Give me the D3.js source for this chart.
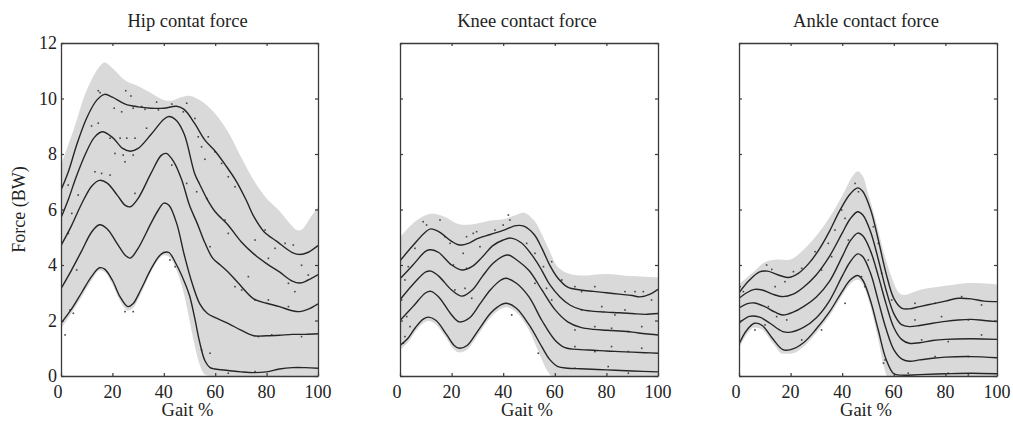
<!DOCTYPE html>
<html><head><meta charset="utf-8">
<script src="https://cdn.jsdelivr.net/npm/d3@7"></script>
<style>
html,body{margin:0;padding:0;background:#fff;}
svg{display:block;}
text{font-family:"Liberation Serif","Times New Roman",serif;fill:#222;}
</style></head>
<body>
<svg id="chart" width="1013" height="430"></svg>
<script>
// ---------- data (gait %, force in BW) ----------
const panelTitles = ["Hip contat force", "Knee contact force", "Ankle contact force"];
const xTicks = [0, 20, 40, 60, 80, 100];
const yTicks = [0, 2, 4, 6, 8, 10, 12];
const xLabel = "Gait %";
const yLabel = "Force (BW)";

// Hip
const hipUpper = [[0,7.6],[5,8.9],[10,10.3],[15,11.15],[17,11.3],[20,11.1],[25,10.65],[30,10.45],[35,10.2],[40,9.95],[43,9.92],[47,10.05],[50,10.1],[55,9.88],[60,9.45],[65,8.8],[70,7.9],[75,7.05],[80,6.4],[85,5.95],[90,5.4],[92,5.25],[94,5.3],[97,5.7],[100,6.1]];
const hipLower = [[0,1.7],[4,2.25],[8,2.85],[12,3.45],[15,3.8],[17,3.75],[20,3.3],[23,2.7],[26,2.35],[28,2.45],[31,2.95],[35,3.75],[38,4.2],[40,4.35],[42,4.3],[45,3.8],[48,2.9],[50,2.0],[52,1.1],[54,0.4],[56,0.05],[58,0],[100,0]];
const hipCurve1 = [[0,1.9],[4,2.4],[8,3.0],[12,3.6],[15,3.9],[17,3.85],[20,3.45],[23,2.85],[26,2.5],[28,2.6],[31,3.1],[35,3.85],[38,4.3],[40,4.45],[42,4.45],[45,4.0],[48,3.4],[50,2.9],[52,2.1],[54,1.2],[56,0.55],[58,0.3],[60,0.25],[65,0.2],[70,0.15],[75,0.12],[80,0.15],[85,0.25],[90,0.3],[95,0.3],[100,0.28]];
const hipCurve2 = [[0,3.15],[4,3.8],[8,4.5],[12,5.2],[15,5.45],[18,5.3],[22,4.75],[25,4.35],[27,4.25],[30,4.6],[35,5.5],[38,6.0],[40,6.23],[42,6.15],[45,5.5],[48,4.35],[51,3.35],[54,2.6],[57,2.25],[60,2.1],[65,1.9],[70,1.65],[75,1.45],[80,1.45],[85,1.47],[90,1.5],[95,1.5],[100,1.52]];
const hipCurve3 = [[0,4.7],[4,5.4],[8,6.2],[12,6.85],[15,7.05],[18,6.95],[22,6.5],[25,6.15],[27,6.1],[30,6.4],[35,7.3],[39,7.95],[41,8.02],[44,7.7],[47,7.06],[50,6.15],[53,5.5],[56,4.8],[59,4.25],[62,4.0],[65,3.75],[69,3.35],[75,2.78],[80,2.62],[85,2.5],[90,2.35],[93,2.32],[96,2.4],[100,2.6]];
const hipCurve4 = [[0,5.7],[3,6.4],[6,7.2],[10,8.1],[13,8.6],[16,8.8],[20,8.6],[24,8.2],[27,8.1],[30,8.2],[35,8.7],[40,9.25],[42,9.35],[45,9.2],[48,8.7],[52,7.3],[54,6.9],[57,6.35],[60,5.92],[65,5.44],[70,4.85],[75,4.4],[80,4.05],[85,3.75],[90,3.42],[93,3.35],[96,3.45],[100,3.65]];
const hipCurve5 = [[0,6.7],[3,7.4],[6,8.3],[10,9.3],[14,9.95],[17,10.15],[20,10.05],[25,9.8],[30,9.7],[35,9.65],[40,9.65],[45,9.72],[48,9.6],[52,9.1],[56,8.5],[60,8.1],[64,7.6],[68,7.05],[72,6.35],[75,5.75],[79,5.2],[84,4.85],[90,4.45],[93,4.38],[96,4.45],[100,4.7]];
const hipDots = [[14.5,10.28],[15.2,10.21],[25.2,10.28],[27.2,10.09],[20.7,9.65],[23.6,9.52],[28.1,9.65],[31.4,9.71],[32.7,9.61],[37.2,9.87],[37.9,9.59],[43.1,9.8],[48.9,9.83],[47.6,9.52],[52.1,9.28],[53.4,8.62],[57.3,8.62],[54.7,8.26],[56,7.81],[59.9,8.08],[62.5,7.66],[11.9,9.01],[14.5,9.11],[19.1,8.57],[23,8.57],[25.6,8.57],[28.8,8.57],[21,8.02],[24.2,7.96],[24.9,7.72],[28.1,7.96],[13.2,7.36],[15.8,7.3],[19.1,7.24],[6.7,6.52],[2.8,6.88],[28.8,6.58],[33.3,8.93],[43.1,7.6],[48.9,6.94],[52.8,6.64],[56.7,6.4],[65.1,7.18],[67.7,6.82],[4.2,5.86],[2.85,5.14],[6.1,3.82],[4.8,2.26],[3.5,2.38],[1.6,1.48],[24.9,2.32],[28.1,2.32],[42.4,4.18],[44.4,3.94],[54.7,0.94],[58,0.82],[58,4.66],[65.1,5.14],[67.7,3.22],[70.3,3.1],[72.9,3.58],[75.5,2.74],[80.7,4.24],[83.3,4.6],[87.2,4.78],[90.4,4.72],[93.6,3.99],[96.2,3.64],[88.5,3.34],[91,3.04],[88.5,2.5],[80.7,2.74],[76.8,1.42],[82,1.48],[93.6,1.42],[65.1,0.1],[75.5,0.16],[63.8,5.62],[75.5,4.9],[79.4,5.26]];

// Knee
const kneeUpper = [[0,5.0],[5,5.5],[10,5.8],[13,5.85],[17,5.75],[22,5.5],[25,5.45],[30,5.5],[35,5.6],[40,5.65],[45,5.8],[48,5.88],[52,5.6],[55,5.1],[58,4.5],[61,3.95],[65,3.7],[70,3.62],[80,3.68],[90,3.6],[100,3.55]];
const kneeLower = [[0,0.95],[3,1.2],[6,1.6],[9,1.9],[11,1.98],[14,1.85],[18,1.35],[21,0.95],[23,0.85],[26,0.95],[30,1.45],[35,2.1],[38,2.35],[41,2.48],[45,2.3],[50,1.65],[54,0.8],[57,0.2],[59,0],[100,0]];
const kneeCurve1 = [[0,1.1],[3,1.35],[6,1.75],[9,2.05],[11,2.12],[14,2.0],[18,1.5],[21,1.1],[23,1.0],[26,1.1],[30,1.6],[35,2.25],[38,2.5],[41,2.62],[45,2.45],[50,1.85],[55,1.05],[58,0.6],[61,0.35],[65,0.28],[70,0.26],[80,0.22],[90,0.18],[100,0.15]];
const kneeCurve2 = [[0,2.0],[5,2.5],[10,3.0],[12,3.05],[15,2.85],[20,2.2],[23,1.95],[27,2.1],[31,2.6],[35,3.1],[39,3.45],[41,3.52],[45,3.35],[50,2.85],[55,2.0],[60,1.3],[64,1.02],[70,0.95],[75,0.93],[80,0.9],[85,0.88],[90,0.86],[95,0.84],[100,0.82]];
const kneeCurve3 = [[0,2.75],[5,3.3],[10,3.75],[12,3.78],[15,3.6],[20,3.1],[24,2.88],[28,3.1],[32,3.6],[36,4.05],[40,4.32],[42,4.36],[45,4.2],[50,3.8],[55,3.1],[60,2.4],[65,1.95],[70,1.75],[75,1.68],[80,1.65],[85,1.62],[90,1.58],[95,1.52],[100,1.48]];
const kneeCurve4 = [[0,3.5],[5,4.0],[10,4.5],[12,4.55],[15,4.45],[20,4.0],[24,3.82],[28,3.95],[32,4.3],[36,4.7],[40,4.9],[43,4.97],[47,4.8],[52,4.25],[55,3.8],[58,3.3],[62,2.85],[66,2.55],[70,2.4],[75,2.33],[80,2.3],[85,2.28],[90,2.25],[95,2.22],[100,2.25]];
const kneeCurve5 = [[0,4.15],[5,4.7],[10,5.2],[12,5.3],[15,5.2],[20,4.85],[23,4.72],[27,4.8],[30,4.95],[35,5.1],[40,5.25],[45,5.42],[48,5.4],[52,5.1],[55,4.6],[58,4.0],[61,3.55],[65,3.2],[70,3.1],[75,3.05],[80,3.0],[85,2.95],[90,2.9],[93,2.85],[97,2.95],[100,3.12]];
const kneeDots = [[9,5.56],[10.3,5.44],[15.5,5.62],[5.8,4.6],[3.2,3.94],[1.9,3.46],[0.65,2.74],[2.6,2.14],[3.9,1.78],[1.3,1.18],[1.9,1.42],[17.4,5.02],[19.4,4.78],[25.8,5.02],[28.4,5.14],[29.7,5.2],[31,4.66],[24.5,4.42],[25.8,3.88],[20.7,4.0],[25.2,3.16],[21.3,3.1],[27.8,2.8],[42,5.8],[40,5.44],[42.6,5.62],[36.8,5.26],[49.1,4.78],[52.3,4.42],[55.6,3.94],[58.8,4.12],[52.3,3.34],[56.8,3.16],[58.8,2.74],[62.7,3.46],[67.8,3.22],[70.4,3.04],[75.5,3.22],[87.2,3.04],[91.1,3.04],[94.3,3.04],[97.5,2.74],[70.4,2.38],[78.2,2.5],[83.3,2.2],[87.2,2.38],[67.8,1.66],[75.5,1.78],[82,1.72],[88.5,1.6],[93.7,1.78],[67.8,1.06],[75.5,0.88],[82,1.06],[88.5,0.88],[93.7,1.0],[67.8,0.28],[80.7,0.34],[88.5,0.1],[43.3,2.2],[53.6,0.82]];

// Ankle
const ankleUpper = [[0,3.3],[5,3.7],[10,4.1],[15,4.2],[20,4.2],[25,4.55],[30,5.05],[35,5.7],[40,6.5],[44,7.2],[46,7.38],[48,7.2],[50,6.6],[53,5.6],[56,4.5],[59,3.6],[62,3.0],[64,2.92],[67,3.0],[70,3.1],[80,3.25],[90,3.35],[100,3.3]];
const ankleLower = [[0,1.0],[3,1.5],[6,1.75],[9,1.67],[13,1.2],[17,0.8],[20,0.8],[25,1.05],[30,1.55],[35,2.15],[40,2.9],[43,3.3],[46,3.47],[48,3.3],[51,2.5],[54,1.3],[56,0.4],[57.5,0],[100,0]];
const ankleCurve1 = [[0,1.15],[3,1.65],[6,1.9],[9,1.82],[13,1.35],[17,0.95],[20,0.95],[25,1.2],[30,1.7],[35,2.3],[40,3.05],[43,3.45],[46,3.62],[48,3.45],[51,2.7],[54,1.65],[57,0.6],[60,0.08],[63,0.03],[70,0.05],[80,0.08],[90,0.1],[100,0.08]];
const ankleCurve2 = [[0,1.9],[4,2.15],[8,2.12],[12,1.9],[17,1.6],[20,1.58],[25,1.75],[30,2.1],[35,2.7],[40,3.6],[43,4.1],[46,4.4],[48,4.3],[51,3.7],[54,2.7],[57,1.7],[60,0.95],[63,0.62],[66,0.53],[70,0.58],[75,0.64],[80,0.68],[90,0.7],[100,0.66]];
const ankleCurve3 = [[0,2.45],[3,2.6],[6,2.63],[10,2.5],[14,2.3],[17,2.2],[21,2.3],[25,2.5],[30,2.85],[35,3.4],[40,4.3],[43,4.85],[46,5.15],[48,5.05],[51,4.5],[54,3.6],[57,2.6],[60,1.75],[63,1.32],[66,1.18],[70,1.2],[75,1.28],[80,1.32],[90,1.34],[100,1.32]];
const ankleCurve4 = [[0,2.8],[3,3.0],[6,3.12],[9,3.1],[13,2.95],[17,2.86],[21,2.95],[25,3.2],[30,3.65],[35,4.3],[40,5.15],[43,5.65],[46,5.92],[48,5.8],[51,5.2],[54,4.2],[57,3.1],[60,2.25],[63,1.85],[66,1.78],[70,1.82],[75,1.9],[80,1.97],[85,2.02],[90,2.04],[95,2.0],[100,1.96]];
const ankleCurve5 = [[0,3.0],[4,3.45],[8,3.75],[11,3.78],[15,3.65],[19,3.55],[23,3.7],[27,4.05],[31,4.55],[35,5.2],[39,5.95],[43,6.55],[46,6.78],[48,6.65],[51,6.0],[54,4.9],[57,3.7],[60,2.8],[63,2.45],[66,2.42],[70,2.5],[75,2.6],[80,2.7],[85,2.8],[90,2.78],[95,2.7],[100,2.68]];
const ankleDots = [[10.7,4.0],[12.7,3.84],[45,6.94],[46.3,6.64],[41.1,5.68],[39.8,5.98],[37.2,5.26],[34.6,4.78],[29.5,4.48],[24.3,3.88],[21.1,3.76],[17.8,3.4],[14,3.22],[0.4,3.22],[1.7,3.04],[11.4,2.5],[14.6,2.14],[18.5,2.02],[32,3.82],[35.9,4.3],[42.4,4.9],[50.1,4.18],[54,4.78],[52.1,5.38],[55.3,3.7],[59.2,2.74],[68.2,2.62],[76,2.62],[86.3,2.86],[94,2.56],[68.2,2.02],[78.5,2.14],[88.9,2.02],[70.8,1.3],[81.1,1.24],[94,1.48],[76,0.7],[88.9,0.7],[56.6,0.58],[56,0.46],[65.6,0.1],[81.1,0.1],[88.9,0.04],[48.8,3.22],[47.5,3.58],[41.1,2.62],[32,1.66],[24.3,1.3],[10.1,1.84],[6.2,1.66]];

const panels = [
  {title: panelTitles[0], upper: hipUpper, lower: hipLower, curves: [hipCurve1, hipCurve2, hipCurve3, hipCurve4, hipCurve5], dots: hipDots, left: 61, right: 318, yLabels: true},
  {title: panelTitles[1], upper: kneeUpper, lower: kneeLower, curves: [kneeCurve1, kneeCurve2, kneeCurve3, kneeCurve4, kneeCurve5], dots: kneeDots, left: 400, right: 658, yLabels: false},
  {title: panelTitles[2], upper: ankleUpper, lower: ankleLower, curves: [ankleCurve1, ankleCurve2, ankleCurve3, ankleCurve4, ankleCurve5], dots: ankleDots, left: 739, right: 997, yLabels: false}
];

// ---------- drawing ----------
const svg = d3.select("#chart");
const plotTop = 43, plotBottom = 376;
const axisColor = "#3a3a3a";
const tickLen = 3;

panels.forEach((p, i) => {
  const x = d3.scaleLinear().domain([0, 100]).range([p.left, p.right]);
  const y = d3.scaleLinear().domain([0, 12]).range([plotBottom, plotTop]);
  const g = svg.append("g");

  const clipId = "clip" + i;
  svg.append("clipPath").attr("id", clipId).append("rect")
    .attr("x", p.left).attr("y", plotTop).attr("width", p.right - p.left).attr("height", plotBottom - plotTop);
  const inner = g.append("g").attr("clip-path", `url(#${clipId})`);

  // band: fill under the upper bound, then carve out the part under the lower bound
  const upperArea = d3.area().x(d => x(d[0])).y0(y(0)).y1(d => y(d[1])).curve(d3.curveCatmullRom.alpha(0.5));
  inner.append("path").datum(p.upper).attr("d", upperArea).attr("fill", "#d9d9d9");
  const lowerArea = d3.area().x(d => x(d[0])).y0(y(0)).y1(d => y(Math.max(0, d[1]))).curve(d3.curveMonotoneX);
  inner.append("path").datum(p.lower).attr("d", lowerArea).attr("fill", "#ffffff");

  // samples
  inner.selectAll(".dot").data(p.dots).enter().append("rect")
    .attr("x", d => x(d[0]) - 0.8).attr("y", d => y(d[1]) - 0.8)
    .attr("width", 1.6).attr("height", 1.6).attr("fill", "#444");

  // curves
  const line = d3.line().x(d => x(d[0])).y(d => y(d[1])).curve(d3.curveCatmullRom.alpha(0.5));
  p.curves.forEach(c => {
    inner.append("path").datum(c).attr("d", line)
      .attr("fill", "none").attr("stroke", "#262626").attr("stroke-width", 1.4);
  });

  // axes (box with inward ticks on all sides)
  const xAxisB = d3.axisBottom(x).tickValues(xTicks).tickSizeInner(-tickLen).tickSizeOuter(0).tickFormat("");
  const xAxisT = d3.axisTop(x).tickValues(xTicks).tickSizeInner(-tickLen).tickSizeOuter(0).tickFormat("");
  const yAxisL = d3.axisLeft(y).tickValues(yTicks).tickSizeInner(-tickLen).tickSizeOuter(0).tickFormat("");
  const yAxisR = d3.axisRight(y).tickValues(yTicks).tickSizeInner(-tickLen).tickSizeOuter(0).tickFormat("");
  [[xAxisB, `translate(0,${plotBottom})`], [xAxisT, `translate(0,${plotTop})`], [yAxisL, `translate(${p.left},0)`], [yAxisR, `translate(${p.right},0)`]].forEach(([ax, tr]) => {
    const a = g.append("g").attr("transform", tr).call(ax);
    a.selectAll("path").attr("stroke", axisColor).attr("stroke-width", 1.3);
    a.selectAll("line").attr("stroke", axisColor).attr("stroke-width", 1.2);
  });

  // tick labels
  g.selectAll(".xl").data(xTicks).enter().append("text")
    .attr("x", d => x(d) - (d === 0 ? 3 : 0)).attr("y", 398)
    .attr("text-anchor", "middle").attr("font-size", 18).text(d => d);
  if (p.yLabels) {
    g.selectAll(".yl").data(yTicks).enter().append("text")
      .attr("x", p.left - 4).attr("y", d => y(d) + 6)
      .attr("text-anchor", "end").attr("font-size", 18).text(d => d);
    g.append("text")
      .attr("transform", `translate(25,${(plotTop + plotBottom) / 2}) rotate(-90)`)
      .attr("text-anchor", "middle").attr("font-size", 18).text(yLabel);
  }
  g.append("text").attr("x", (p.left + p.right) / 2 - 2).attr("y", 416)
    .attr("text-anchor", "middle").attr("font-size", 18.5).text(xLabel);
  g.append("text").attr("x", (p.left + p.right) / 2 - 2).attr("y", 27)
    .attr("text-anchor", "middle").attr("font-size", 18.5).text(p.title);
});
</script>
</body></html>
